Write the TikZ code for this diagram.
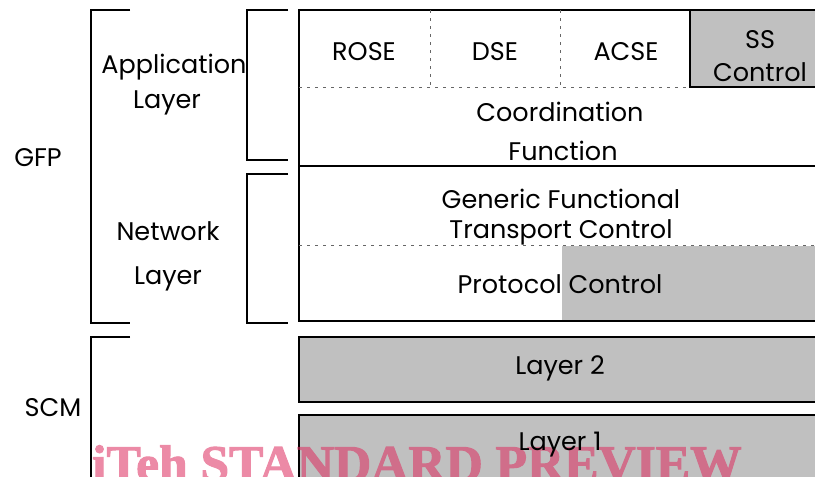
\documentclass[tikz,border=0pt]{standalone}
\usepackage{fontspec}
\setmainfont{Poppins}
\newfontfamily\wmfont{Liberation Serif Bold}[FakeBold=2]
\usetikzlibrary{positioning}
\definecolor{layergray}{RGB}{192,192,192}
\definecolor{wmpink}{RGB}{221,46,96}

\begin{document}
\begin{tikzpicture}[x=1pt,y=-1pt,
  lbl/.style={font=\fontsize{25.5}{28}\selectfont,inner sep=0pt},
  brk/.style={line width=2pt},
  box/.style={line width=2pt},
  sep/.style={dash pattern=on 3pt off 5pt,line width=0.8pt,black!60}]
\useasboundingbox (0,0) rectangle (815,477);
\def\right{830}
% gray areas
\fill[layergray] (562,246) rectangle (\right,321);
\filldraw[layergray,draw=black,line width=2.4pt] (690,10) rectangle (\right,87);
\filldraw[layergray,draw=black,box] (299,337) rectangle (\right,402);
\filldraw[layergray,draw=black,box] (299,415) rectangle (\right,490);
% upper stack
\draw[box] (\right,10) -- (299,10) -- (299,321) -- (\right,321);
\draw[box] (299,166) -- (\right,166);
\draw[sep] (299,87) -- (688,87);
\draw[sep] (430,10) -- (430,87);
\draw[sep] (560,10) -- (560,87);
\draw[sep] (299,245) -- (\right,245);
% brackets
\draw[brk] (130,10) -- (91,10) -- (91,323) -- (130,323);
\draw[brk] (130,337) -- (91,337) -- (91,490);
\draw[brk] (288,10) -- (247,10) -- (247,160) -- (288,160);
\draw[brk] (288,174) -- (247,174) -- (247,323) -- (288,323);
% watermark
\begin{scope}[transparency group,opacity=0.56]
\node[anchor=base west,inner sep=0pt,text=wmpink,
  font=\wmfont\fontsize{51.5}{52}\selectfont] (wm) at (92,481) {iTeh STANDARD PREVIEW};
\end{scope}
% labels
\node[lbl] (gfp) at (38,158) {GFP};
\node[lbl] (app) at (174,67) {Application};
\node[lbl] (appl) at (167,103) {Layer};
\node[lbl] (net) at (168,231) {Network};
\node[lbl] (netl) at (168,279) {Layer};
\node[lbl] (scm) at (53,408) {SCM};
\node[lbl] (rose) at (364,52) {ROSE};
\node[lbl] (dse) at (495,52) {DSE};
\node[lbl] (acse) at (626,52) {ACSE};
\node[lbl] (ss) at (760,40) {SS};
\node[lbl] (ssc) at (760,72) {Control};
\node[lbl] (coord) at (560,112) {Coordination};
\node[lbl] (func) at (563,151) {Function};
\node[lbl] (gft) at (561,199) {Generic Functional};
\node[lbl] (tc) at (561,232) {Transport Control};
\node[lbl] (pc) at (560,284) {Protocol Control};
\node[lbl] (l2) at (560,368) {Layer 2};
\node[lbl] (l1) at (560,445) {Layer 1};
\end{tikzpicture}
\end{document}
